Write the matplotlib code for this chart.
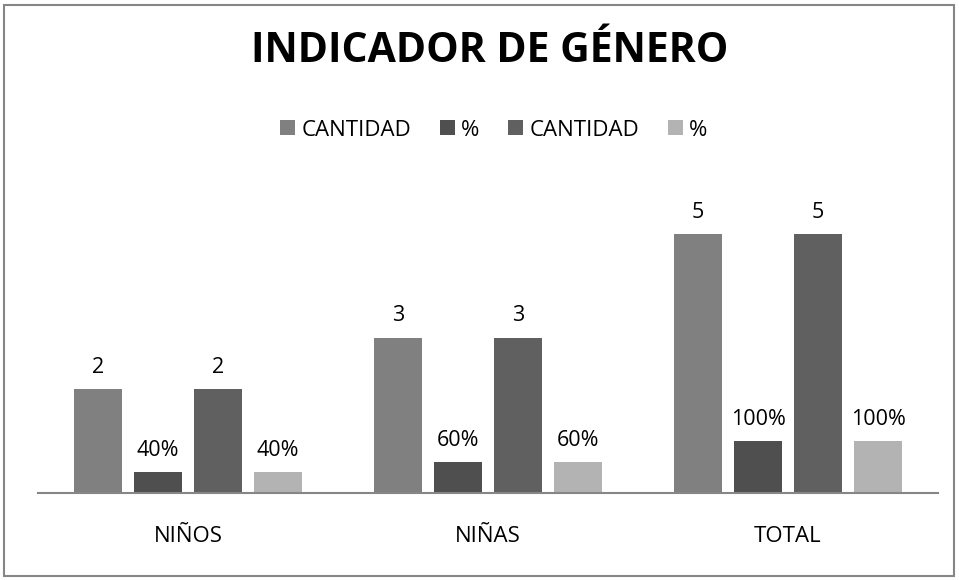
import matplotlib
matplotlib.use('Agg')
import matplotlib.pyplot as plt
import matplotlib.patches as patches
import numpy as np

plt.rcParams['font.family'] = ['Open Sans', 'DejaVu Sans']

categories = ['NIÑOS', 'NIÑAS', 'TOTAL']
series_names = ['CANTIDAD', '%', 'CANTIDAD', '%']
cantidad_1 = [2, 3, 5]
pct_1 = [0.4, 0.6, 1.0]
cantidad_2 = [2, 3, 5]
pct_2 = [0.4, 0.6, 1.0]
labels_1 = ['2', '3', '5']
labels_pct_1 = ['40%', '60%', '100%']
labels_2 = ['2', '3', '5']
labels_pct_2 = ['40%', '60%', '100%']

series = [cantidad_1, pct_1, cantidad_2, pct_2]
series_labels = [labels_1, labels_pct_1, labels_2, labels_pct_2]
colors = ['#808080', '#4f4f4f', '#606060', '#b3b3b3']

fig = plt.figure(figsize=(9.59, 5.80), dpi=100)
ax = fig.add_axes([38 / 959, 87 / 580, 900 / 959, 310.8 / 580])

x = np.arange(len(categories))
width = 0.16
step = 0.2
for i, (vals, labs, col) in enumerate(zip(series, series_labels, colors)):
    pos = x + (i - 1.5) * step
    bars = ax.bar(pos, vals, width, color=col, label=series_names[i])
    for b, lab in zip(bars, labs):
        ax.annotate(lab, (b.get_x() + b.get_width() / 2, b.get_height()),
                    xytext=(0, 8), textcoords='offset points',
                    ha='center', va='bottom', fontsize=15.5, color='#000000')

ax.set_xlim(-0.5, 2.5)
ax.set_ylim(0, 6)
ax.set_yticks([])
ax.set_xticks(x)
ax.set_xticklabels(categories, fontsize=16)
ax.tick_params(axis='x', length=0, pad=24)
for s in ['top', 'right', 'left']:
    ax.spines[s].set_visible(False)
ax.spines['bottom'].set_color('#868686')
ax.spines['bottom'].set_linewidth(1.5)

fig.text(490 / 959, 1 - 52 / 580, 'INDICADOR DE GÉNERO', ha='center', va='center',
         fontsize=29.5, fontweight='bold')

fig.legend(loc='center', bbox_to_anchor=(494 / 959, 1 - 130 / 580), ncol=4,
           frameon=False, fontsize=16, handlelength=0.65, handleheight=0.65,
           handletextpad=0.3, columnspacing=1.3)

fig.patches.append(patches.Rectangle((4 / 959, 4 / 580), 950 / 959, 571 / 580,
                                     transform=fig.transFigure, fill=False,
                                     edgecolor='#868686', linewidth=1.5))

fig.savefig('out.png', dpi=100)
